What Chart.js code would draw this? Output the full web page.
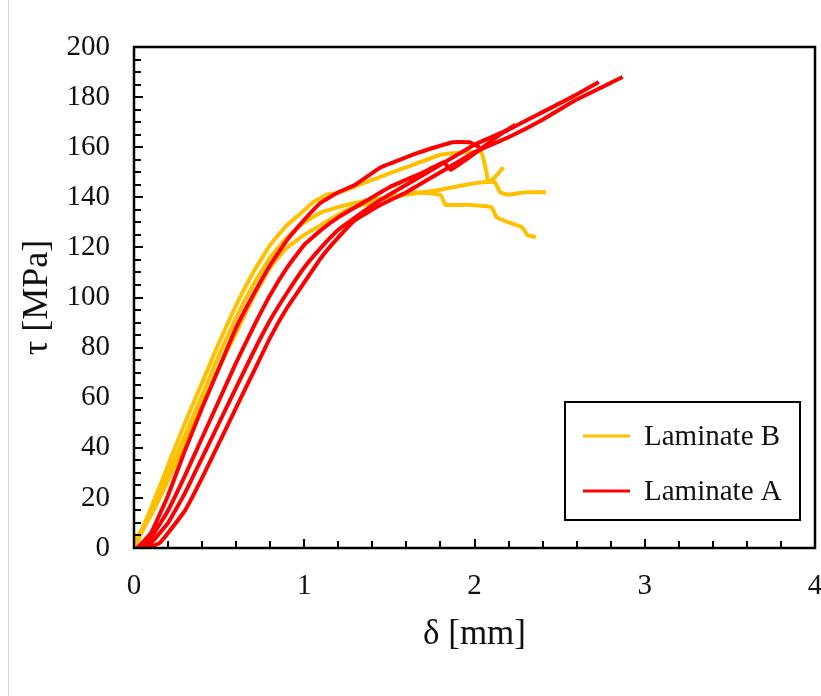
<!DOCTYPE html>
<html>
<head>
<meta charset="utf-8">
<script src="https://cdn.jsdelivr.net/npm/chart.js@4"></script>
<style>
  body { margin: 0; background: #fff; }
  #wrap { position: relative; width: 821px; height: 696px; }
  #edge { position: absolute; left: 8px; top: 0; width: 1px; height: 696px; background: #d4d4d4; }
</style>
</head>
<body>
<div id="wrap">
  <div id="edge"></div>
  <canvas id="shearChart" width="821" height="696"></canvas>
</div>
<script>
// axis setup
const xMin = 0, xMax = 4, xStep = 1, xMinorStep = 0.2;
const yMin = 0, yMax = 200, yStep = 20, yMinorStep = 5;
const xTitle = "δ [mm]";
const yTitle = "τ [MPa]";
const seriesNames = ["Laminate B", "Laminate A"];
const seriesColors = ["#FFC000", "#FF0000"];

// Laminate A specimens (red)
const a1Delta = [0.08, 0.15, 0.2, 0.3, 0.4, 0.5, 0.6, 0.7, 0.8, 0.9, 1.0, 1.1, 1.2, 1.3, 1.45, 1.6, 1.8, 2.0, 2.2, 2.4, 2.6, 2.75, 2.87];
const a1Tau   = [0, 2, 6, 15, 28, 42, 56, 70, 84, 96, 106, 116, 124, 131, 137, 142, 150, 158, 164, 171, 179, 184, 188];
const a2Delta = [0.05, 0.1, 0.2, 0.3, 0.4, 0.5, 0.6, 0.7, 0.8, 0.9, 1.0, 1.1, 1.2, 1.3, 1.45, 1.6, 1.8, 2.0, 2.2, 2.4, 2.6, 2.73];
const a2Tau   = [0, 2, 10, 22, 36, 50, 64, 78, 91, 102, 112, 120, 127, 132, 139, 145, 153, 161, 167, 174, 181, 186];
const a3Delta = [0.04, 0.1, 0.2, 0.3, 0.4, 0.5, 0.6, 0.7, 0.8, 0.9, 1.0, 1.1, 1.2, 1.35, 1.5, 1.7, 1.82, 1.86, 1.95, 2.05, 2.15, 2.24];
const a3Tau   = [0, 4, 15, 29, 44, 59, 74, 88, 101, 112, 121, 127, 132, 138, 144, 150, 154, 151, 155, 160, 165, 169];
const a4Delta = [0.02, 0.1, 0.2, 0.3, 0.4, 0.5, 0.6, 0.7, 0.8, 0.9, 1.0, 1.1, 1.2, 1.3, 1.45, 1.68, 1.87, 1.97, 2.03];
const a4Tau   = [0, 6, 21, 39, 56, 72, 88, 101, 113, 123, 131, 138, 142, 145, 152, 158, 162, 162, 160];

// Laminate B specimens (yellow)
const b1Delta = [0, 0.05, 0.1, 0.2, 0.3, 0.4, 0.5, 0.6, 0.7, 0.8, 0.9, 0.97, 1.05, 1.13, 1.21, 1.4, 1.6, 1.8, 1.96, 2.04, 2.07, 2.08, 2.12, 2.17];
const b1Tau   = [2, 8, 16, 33, 50, 66, 82, 97, 110, 121, 129, 133, 138, 141, 142, 147, 152, 157, 158, 158, 150, 146, 148, 152];
const b2Delta = [0, 0.1, 0.2, 0.3, 0.4, 0.5, 0.6, 0.7, 0.8, 0.9, 1.0, 1.1, 1.25, 1.45, 1.64, 1.8, 1.83, 1.95, 2.1, 2.13, 2.2, 2.28, 2.31, 2.36];
const b2Tau   = [1, 13, 27, 42, 57, 72, 86, 100, 112, 120, 125, 129, 135, 139, 142, 141, 137, 137, 136, 132, 130, 128, 125, 124];
const b3Delta = [0, 0.1, 0.2, 0.3, 0.4, 0.5, 0.6, 0.7, 0.8, 0.9, 1.0, 1.1, 1.25, 1.4, 1.6, 1.8, 1.95, 2.05, 2.12, 2.15, 2.2, 2.3, 2.42];
const b3Tau   = [0, 14, 29, 45, 61, 77, 92, 105, 116, 124, 130, 134, 137, 139, 141, 143, 145, 146, 146, 142, 141, 142, 142];

function toPoints(xs, ys) {
    return xs.map((v, i) => ({ x: v, y: ys[i] }));
}

function specimen(xs, ys, group) {
    return {
        label: seriesNames[group],
        data: toPoints(xs, ys),
        borderColor: seriesColors[group],
        backgroundColor: seriesColors[group],
        borderWidth: 4,
        pointRadius: 0,
        showLine: true,
        tension: 0.1
    };
}

// red first so it sits on top of the yellow curves
const datasets = [
    specimen(a1Delta, a1Tau, 1),
    specimen(a2Delta, a2Tau, 1),
    specimen(a3Delta, a3Tau, 1),
    specimen(a4Delta, a4Tau, 1),
    specimen(b1Delta, b1Tau, 0),
    specimen(b2Delta, b2Tau, 0),
    specimen(b3Delta, b3Tau, 0)
];

// inward tick marks, plot frame and the boxed legend
const framePlugin = {
    id: 'framePlugin',
    afterDraw(chart) {
        const ctx = chart.ctx;
        const a = chart.chartArea;
        const xs = chart.scales.x, ys = chart.scales.y;
        ctx.save();
        ctx.strokeStyle = '#000';
        ctx.lineWidth = 2;
        ctx.beginPath();
        const nx = Math.round((xMax - xMin) / xMinorStep);
        for (let i = 1; i < nx; i++) {
            const v = xMin + i * xMinorStep;
            const px = Math.round(xs.getPixelForValue(v));
            const len = (i % Math.round(xStep / xMinorStep) === 0) ? 9 : 7;
            ctx.moveTo(px, a.bottom);
            ctx.lineTo(px, a.bottom - len);
        }
        const ny = Math.round((yMax - yMin) / yMinorStep);
        for (let i = 1; i < ny; i++) {
            const v = yMin + i * yMinorStep;
            const py = Math.round(ys.getPixelForValue(v));
            const len = (i % Math.round(yStep / yMinorStep) === 0) ? 9 : 7;
            ctx.moveTo(a.left, py);
            ctx.lineTo(a.left + len, py);
        }
        ctx.stroke();

        ctx.lineWidth = 2.5;
        ctx.strokeRect(a.left, a.top, a.right - a.left, a.bottom - a.top);

        // legend box in the lower right corner of the plot
        const boxW = 235, boxH = 118;
        const bx = a.right - 15 - boxW;
        const by = a.bottom - 28 - boxH;
        ctx.fillStyle = '#fff';
        ctx.fillRect(bx, by, boxW, boxH);
        ctx.lineWidth = 2;
        ctx.strokeStyle = '#000';
        ctx.strokeRect(bx, by, boxW, boxH);
        ctx.font = '29px "Liberation Serif"';
        ctx.textBaseline = 'middle';
        ctx.textAlign = 'left';
        seriesNames.forEach((name, i) => {
            const rowY = by + 34 + i * 55;
            ctx.strokeStyle = seriesColors[i];
            ctx.lineWidth = 3;
            ctx.beginPath();
            ctx.moveTo(bx + 18, rowY);
            ctx.lineTo(bx + 65, rowY);
            ctx.stroke();
            ctx.fillStyle = '#111';
            ctx.fillText(name, bx + 79, rowY + 1);
        });
        ctx.restore();
    }
};

const ctx = document.getElementById('shearChart').getContext('2d');
new Chart(ctx, {
    type: 'scatter',
    data: { datasets: datasets },
    plugins: [framePlugin],
    options: {
        responsive: false,
        animation: false,
        devicePixelRatio: 1,
        layout: { padding: { left: 0, top: 47, right: 6, bottom: 0 } },
        plugins: { legend: { display: false }, tooltip: { enabled: false } },
        scales: {
            x: {
                type: 'linear',
                min: xMin,
                max: xMax,
                afterFit: (scale) => {
                    scale.height = 148;
                    scale.paddingRight = 0;
                    scale.paddingLeft = 0;
                },
                grid: { display: false },
                border: { display: true, color: '#000', width: 2 },
                ticks: {
                    stepSize: xStep,
                    padding: 13,
                    color: '#111',
                    font: { family: 'Liberation Serif', size: 29 }
                },
                title: {
                    display: true,
                    text: xTitle,
                    color: '#111',
                    padding: { top: 40, bottom: 40 },
                    font: { family: 'Liberation Serif', size: 35 }
                }
            },
            y: {
                type: 'linear',
                min: yMin,
                max: yMax,
                afterFit: (scale) => { scale.width = 134; },
                grid: { display: false },
                border: { display: true, color: '#000', width: 2 },
                ticks: {
                    stepSize: yStep,
                    padding: 16,
                    color: '#111',
                    font: { family: 'Liberation Serif', size: 29 }
                },
                title: {
                    display: true,
                    text: yTitle,
                    color: '#111',
                    padding: { top: 16, bottom: 16 },
                    font: { family: 'Liberation Serif', size: 36 }
                }
            }
        }
    }
});
</script>
</body>
</html>
